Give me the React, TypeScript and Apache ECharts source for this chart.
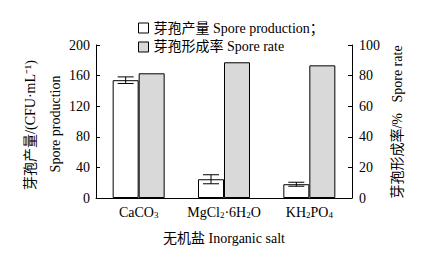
import React, { useEffect, useRef } from "react";
import * as echarts from "echarts";

const categories = ["CaCO_3", "MgCl_2·6H_2O", "KH_2PO_4"];
const sporeProduction = [154, 24.5, 18];
const sporeProductionErr = [4.3, 5.9, 2.6];
const sporeRate = [81.5, 88.7, 86.7];
const leftTicks = { min: 0, max: 200, interval: 40 };
const rightTicks = { min: 0, max: 100, interval: 20 };
const seriesNames = ["芽孢产量 Spore production；", "芽孢形成率 Spore rate"];

const FONT = "'Liberation Serif', 'Noto Sans CJK SC', serif";
const BAR_W = 26;

export default function App() {
  const ref = useRef<HTMLDivElement>(null);
  useEffect(() => {
    if (!ref.current) return;
    const chart = echarts.init(ref.current, undefined, { renderer: "svg" });
    const errData = sporeProduction.map((v, i) => [i, v, sporeProductionErr[i]]);
    chart.setOption({
      animation: false,
      backgroundColor: "#fff",
      textStyle: { fontFamily: FONT, color: "#000" },
      grid: { left: 96, right: 73, top: 45, bottom: 56 },
      legend: {
        orient: "vertical",
        left: 133,
        top: 16,
        itemWidth: 10,
        itemHeight: 10,
        itemGap: 5,
        icon: "rect",
        itemStyle: { borderWidth: 1, borderColor: "#000" },
        textStyle: { fontFamily: FONT, fontSize: 14, color: "#000" },
        data: seriesNames,
      },
      xAxis: {
        type: "category",
        data: categories,
        boundaryGap: true,
        axisLine: { lineStyle: { color: "#000", width: 1 } },
        axisTick: { inside: true, length: 4, lineStyle: { color: "#000" } },
        axisLabel: {
          interval: 0,
          margin: 6,
          formatter: (v: string) => "{n|" + v.replace(/_(\d)/g, "}{s|$1}{n|") + "}",
          rich: {
            n: { fontFamily: FONT, fontSize: 14, color: "#000", lineHeight: 16 },
            s: { fontFamily: FONT, fontSize: 9, color: "#000", lineHeight: 9, verticalAlign: "bottom" },
          },
        },
      },
      yAxis: [
        {
          type: "value",
          ...leftTicks,
          splitLine: { show: false },
          axisLine: { show: true, lineStyle: { color: "#000" } },
          axisTick: { show: true, inside: true, length: 4, lineStyle: { color: "#000" } },
          axisLabel: { margin: 6, fontFamily: FONT, fontSize: 14, color: "#000" },
        },
        {
          type: "value",
          ...rightTicks,
          position: "right",
          splitLine: { show: false },
          axisLine: { show: true, lineStyle: { color: "#000" } },
          axisTick: { show: true, inside: true, length: 4, lineStyle: { color: "#000" } },
          axisLabel: { margin: 7, fontFamily: FONT, fontSize: 14, color: "#000" },
        },
      ],
      series: [
        {
          name: seriesNames[0],
          type: "bar",
          yAxisIndex: 0,
          data: sporeProduction,
          barWidth: BAR_W,
          barGap: "0%",
          itemStyle: { color: "#ffffff", borderColor: "#000", borderWidth: 1 },
        },
        {
          name: seriesNames[1],
          type: "bar",
          yAxisIndex: 1,
          data: sporeRate,
          barWidth: BAR_W,
          barGap: "0%",
          itemStyle: { color: "#d9d9d9", borderColor: "#000", borderWidth: 1 },
        },
        {
          type: "custom",
          yAxisIndex: 0,
          z: 10,
          data: errData,
          renderItem: (params: any, api: any) => {
            const i = api.value(0);
            const v = api.value(1);
            const e = api.value(2);
            const top = api.coord([i, v + e]);
            const bot = api.coord([i, v - e]);
            const x = top[0] - BAR_W / 2;
            const cap = 8;
            const style = { stroke: "#000", lineWidth: 1 };
            return {
              type: "group",
              children: [
                { type: "line", shape: { x1: x, y1: top[1], x2: x, y2: bot[1] }, style },
                { type: "line", shape: { x1: x - cap, y1: top[1], x2: x + cap, y2: top[1] }, style },
                { type: "line", shape: { x1: x - cap, y1: bot[1], x2: x + cap, y2: bot[1] }, style },
              ],
            };
          },
        },
      ],
      graphic: [
        {
          type: "text",
          x: 30,
          y: 125,
          rotation: Math.PI / 2,
          style: {
            text: "芽孢产量/(CFU·mL⁻¹)",
            fontFamily: FONT,
            fontSize: 14,
            fill: "#000",
            align: "center",
            verticalAlign: "middle",
          },
        },
        {
          type: "text",
          x: 55,
          y: 124,
          rotation: Math.PI / 2,
          style: {
            text: "Spore production",
            fontFamily: FONT,
            fontSize: 14,
            fill: "#000",
            align: "center",
            verticalAlign: "middle",
          },
        },
        {
          type: "text",
          x: 397,
          y: 122,
          rotation: Math.PI / 2,
          style: {
            text: "芽孢形成率/%   Spore rate",
            fontFamily: FONT,
            fontSize: 14,
            fill: "#000",
            align: "center",
            verticalAlign: "middle",
          },
        },
        {
          type: "text",
          x: 224,
          y: 238,
          style: {
            text: "无机盐 Inorganic salt",
            fontFamily: FONT,
            fontSize: 14,
            fill: "#000",
            align: "center",
            verticalAlign: "middle",
          },
        },
      ],
    });
    return () => chart.dispose();
  }, []);
  return (
    <div
      ref={ref}
      style={{ position: "fixed", left: 0, top: 0, width: 425, height: 254 }}
    />
  );
}
